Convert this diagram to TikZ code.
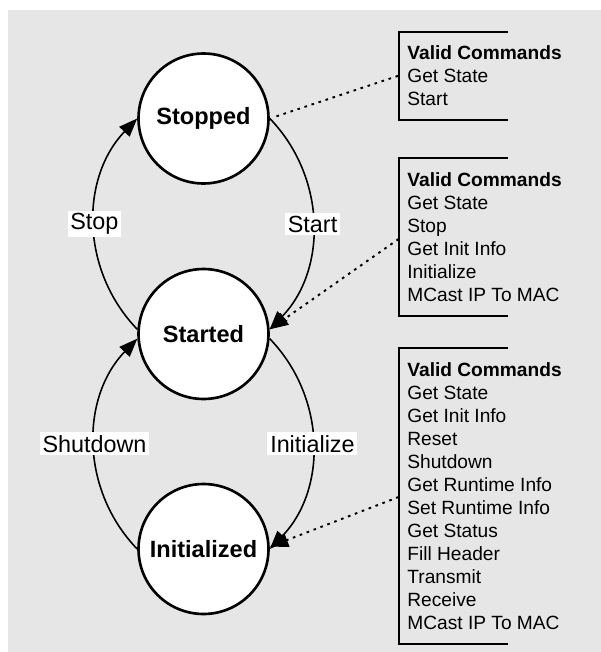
\documentclass[tikz,border=0pt]{standalone}
\usepackage{fontspec}
\setmainfont{Liberation Sans}
\usetikzlibrary{positioning, arrows.meta, calc}
\definecolor{panelgray}{RGB}{230,230,230}

\tikzset{
  state/.style={circle, draw, line width=1.5pt, fill=white, minimum size=2.6cm, inner sep=0pt,
    font=\fontsize{13.4}{16}\selectfont\bfseries},
  tip/.style={-{Triangle[length=10.5pt,width=8pt]}},
  trans/.style={tip, line width=0.9pt},
  translabel/.style={midway, fill=white, inner sep=1.6pt, font=\fontsize{13.3}{16}\selectfont},
  cmdlist/.style={anchor=north west, align=left, inner xsep=4.8pt, inner ysep=7.8pt,
    font=\fontsize{10.9}{13.1}\selectfont},
  bracket/.style={line width=1.1pt},
  hint/.style={dash pattern=on 1.5pt off 2.7pt, line width=1.1pt}
}

\begin{document}
\begin{tikzpicture}[x=0.02cm, y=-0.02cm]
  \useasboundingbox (0,0) rectangle (601,652);
  \fill[panelgray] (8.4,10) rectangle (601,652);

  % States
  \node[state] (stopped) at (203.5,118.5) {Stopped};
  \node[state] (started) at (203.5,334) {Started};
  \node[state] (initialized) at (203.5,549) {Initialized};

  % Transitions
  \draw[trans] (started.176) to[bend left=44] node[translabel] {Stop} (stopped.west);
  \draw[trans] (stopped.east) to[bend left=44] node[translabel] {Start} (started.4);
  \draw[trans] (started.-4) to[bend left=44] node[translabel] {Initialize} (initialized.east);
  \draw[trans] (initialized.west) to[bend left=44] node[translabel] {Shutdown} (started.184);

  % Valid commands
  \node[cmdlist] (cmdsStopped) at (398.6,31.6) {\textbf{Valid Commands}\\Get State\\Start};
  \node[cmdlist] (cmdsStarted) at (398.6,158.3) {\textbf{Valid Commands}\\Get State\\Stop\\Get Init Info\\Initialize\\MCast IP To MAC};
  \node[cmdlist] (cmdsInitialized) at (398.6,348.3) {\textbf{Valid Commands}\\Get State\\Get Init Info\\Reset\\Shutdown\\Get Runtime Info\\Set Runtime Info\\Get Status\\Fill Header\\Transmit\\Receive\\MCast IP To MAC};
  \foreach \c in {cmdsStopped, cmdsStarted, cmdsInitialized}
    \draw[bracket] ($(\c.north west)+(109.4,0)$) -| (\c.south west) -- ++(109.4,0);

  % Pointers
  \coordinate (hint1) at (398.6,75.7);
  \coordinate (hint2) at (398.6,239);
  \coordinate (hint3) at (398.6,497);
  \draw[hint, shorten <=4pt] (stopped.east) -- (hint1);
  \draw[hint, tip] (hint2) -- (started.4);
  \draw[hint, tip] (hint3) -- (initialized.2);
\end{tikzpicture}
\end{document}
